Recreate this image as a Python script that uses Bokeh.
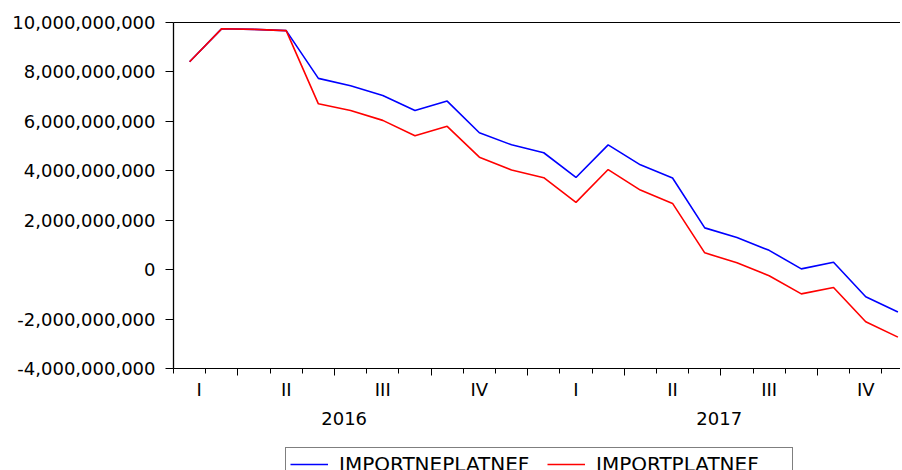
from bokeh.plotting import figure
from bokeh.layouts import column
from bokeh.models import (Range1d, LinearAxis, FixedTicker, NumeralTickFormatter,
                          Legend, LegendItem)
from bokeh.embed import file_html
from bokeh.resources import INLINE

# ---- data (monthly, 2016M01 - 2017M11) ----
months = ["2016-01", "2016-02", "2016-03", "2016-04", "2016-05", "2016-06",
          "2016-07", "2016-08", "2016-09", "2016-10", "2016-11", "2016-12",
          "2017-01", "2017-02", "2017-03", "2017-04", "2017-05", "2017-06",
          "2017-07", "2017-08", "2017-09", "2017-10", "2017-11"]

importneplatnef = [8.41e9, 9.75e9, 9.72e9, 9.67e9, 7.74e9, 7.44e9, 7.05e9, 6.44e9,
                   6.82e9, 5.54e9, 5.05e9, 4.73e9, 3.73e9, 5.05e9, 4.24e9, 3.71e9,
                   1.69e9, 1.30e9, 0.78e9, 0.03e9, 0.30e9, -1.10e9, -1.71e9]

importplatnef = [8.41e9, 9.75e9, 9.72e9, 9.67e9, 6.71e9, 6.44e9, 6.04e9, 5.42e9,
                 5.80e9, 4.55e9, 4.03e9, 3.72e9, 2.72e9, 4.05e9, 3.22e9, 2.68e9,
                 0.68e9, 0.28e9, -0.25e9, -0.98e9, -0.72e9, -2.11e9, -2.73e9]

y_ticks = [-4e9, -2e9, 0, 2e9, 4e9, 6e9, 8e9, 10e9]
quarter_labels = ["I", "II", "III", "IV", "I", "II", "III", "IV"]
year_labels = ["2016", "2017"]
series_names = ["IMPORTNEPLATNEF", "IMPORTPLATNEF"]
series_colors = ["#0000FF", "#FF0000"]

FONT = "DejaVu Sans"

x = list(range(len(months)))
month_num = [int(m.split("-")[1]) for m in months]

# month boundaries (minor ticks) and EViews-style quarter marks (major ticks)
month_edges = [i - 0.5 for i in x]
quarter_edges = [i - 0.5 for i in x if month_num[i] in (3, 6, 9, 12)]
# quarter labels sit at the first month of each quarter (first one nudged into view)
quarter_pos = [float(i) for i in x if month_num[i] in (1, 4, 7, 10)]
quarter_pos[0] = 0.3
year_pos = [4.8, 16.45]

p = figure(width=900, height=440, output_backend="svg", toolbar_location=None,
           x_range=Range1d(-0.5, 22.08), y_range=Range1d(-4e9, 10e9),
           x_axis_type=None, y_axis_type=None,
           min_border_left=173, min_border_right=0, min_border_top=22,
           min_border_bottom=72)
p.outline_line_color = None
p.background_fill_color = "white"
p.border_fill_color = "white"

# left axis
yaxis = LinearAxis(ticker=FixedTicker(ticks=y_ticks),
                   formatter=NumeralTickFormatter(format="0,0"))
yaxis.axis_line_color = "black"
yaxis.axis_line_width = 1.3
yaxis.major_tick_line_color = "black"
yaxis.major_tick_out = 8
yaxis.major_tick_in = 0
yaxis.minor_tick_line_color = None
yaxis.major_label_standoff = 10
yaxis.major_label_text_font = FONT
yaxis.major_label_text_font_size = "18px"
yaxis.major_label_text_color = "black"
p.add_layout(yaxis, "left")

# top frame line
top = LinearAxis(ticker=FixedTicker(ticks=[]))
top.axis_line_color = "black"
top.major_tick_line_color = None
top.minor_tick_line_color = None
top.major_tick_out = 0
top.minor_tick_out = 0
top.major_label_standoff = 0
p.add_layout(top, "above")

# bottom axis: tick marks
axA = LinearAxis(ticker=FixedTicker(ticks=quarter_edges, minor_ticks=month_edges),
                 major_label_overrides={e: "" for e in quarter_edges})
axA.axis_line_color = "black"
axA.major_tick_line_color = "black"
axA.minor_tick_line_color = "black"
axA.major_tick_out = 7
axA.major_tick_in = 0
axA.minor_tick_out = 5
axA.minor_tick_in = 0
axA.major_label_standoff = 0
p.add_layout(axA, "below")

# bottom axis: quarter labels
axB = LinearAxis(ticker=FixedTicker(ticks=quarter_pos),
                 major_label_overrides={pos: lab for pos, lab in zip(quarter_pos, quarter_labels)})
axB.axis_line_color = None
axB.major_tick_line_color = None
axB.minor_tick_line_color = None
axB.major_tick_out = 0
axB.minor_tick_out = 0
axB.major_label_standoff = 3
axB.major_label_text_font = FONT
axB.major_label_text_font_size = "18px"
axB.major_label_text_color = "black"
p.add_layout(axB, "below")

# bottom axis: year labels
axC = LinearAxis(ticker=FixedTicker(ticks=year_pos),
                 major_label_overrides={pos: lab for pos, lab in zip(year_pos, year_labels)})
axC.axis_line_color = None
axC.major_tick_line_color = None
axC.minor_tick_line_color = None
axC.major_tick_out = 0
axC.minor_tick_out = 0
axC.major_label_standoff = 9
axC.major_label_text_font = FONT
axC.major_label_text_font_size = "18px"
axC.major_label_text_color = "black"
p.add_layout(axC, "below")

p.line(x, importneplatnef, line_color=series_colors[0], line_width=1.6)
p.line(x, importplatnef, line_color=series_colors[1], line_width=1.6)

# legend strip below the chart (cut by the bottom edge, as in the reference);
# its frame is aligned with the chart's frame by the column layout.
lg = figure(width=900, height=30, output_backend="svg", toolbar_location=None,
            x_range=Range1d(-0.5, 22.08), y_range=Range1d(20e9, 21e9),
            x_axis_type=None, y_axis_type=None,
            min_border_left=173, min_border_right=0, min_border_top=0,
            min_border_bottom=0)
lg.outline_line_color = None
lg.background_fill_color = "white"
lg.border_fill_color = "white"
# legend keys (series lie outside this strip's y range, so only the keys show)
k1 = lg.line(x, importneplatnef, line_color=series_colors[0], line_width=1.6)
k2 = lg.line(x, importplatnef, line_color=series_colors[1], line_width=1.6)

legend = Legend(items=[LegendItem(label=series_names[0], renderers=[k1]),
                       LegendItem(label=series_names[1], renderers=[k2])],
                orientation="horizontal", location=(112, -11))
legend.border_line_color = "black"
legend.border_line_width = 1
legend.background_fill_color = "white"
legend.background_fill_alpha = 1
legend.label_text_font = FONT
legend.label_text_font_size = "20px"
legend.label_text_color = "black"
legend.glyph_width = 38
legend.glyph_height = 18
legend.label_height = 18
legend.label_width = 192
legend.label_standoff = 11
legend.spacing = 16
legend.padding = 4
legend.margin = 0
lg.add_layout(legend)

layout = column(p, lg, spacing=0)
open("out.html", "w").write(file_html(layout, INLINE))
